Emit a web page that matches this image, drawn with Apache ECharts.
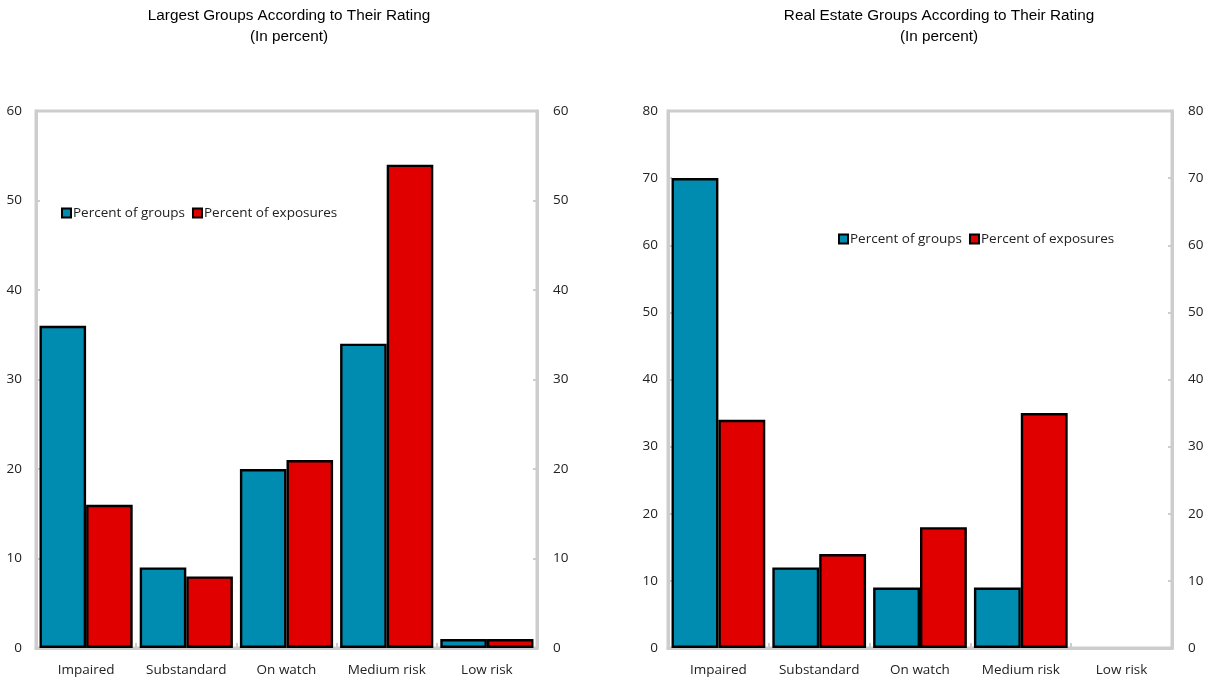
<!DOCTYPE html>
<html><head><meta charset="utf-8">
<script src="https://cdn.jsdelivr.net/npm/echarts@6/dist/echarts.min.js"></script>
<style>html,body{margin:0;padding:0;background:#fff}#c{width:1219px;height:684px}</style>
</head><body><div id="c"></div>
<script>
const categories = ['Impaired', 'Substandard', 'On watch', 'Medium risk', 'Low risk'];
const seriesNames = ['Percent of groups', 'Percent of exposures'];
const largestGroups = [36, 9, 20, 34, 1];
const largestExposures = [16, 8, 21, 54, 1];
const realEstateGroups = [70, 12, 9, 9, 0];
const realEstateExposures = [34, 14, 18, 35, 0];
const leftTicks = { min: 0, max: 60, interval: 10 };
const rightTicks = { min: 0, max: 80, interval: 10 };
const titles = ['Largest Groups According to Their Rating\n(In percent)', 'Real Estate Groups According to Their Rating\n(In percent)'];

const BLUE = '#008bb0', RED = '#e00000', GRAY = '#cdcdcd';
const FONT = 'Open Sans';
const lbl = { color: '#222', fontFamily: FONT, fontSize: 13.5 };

function xAx(g) {
  return { type: 'category', gridIndex: g, data: categories,
    axisLine: { lineStyle: { color: GRAY, width: 3 } },
    axisTick: { show: true, inside: true, length: 5, lineStyle: { color: GRAY, width: 2 } },
    axisLabel: Object.assign({ margin: 15, interval: 0, hideOverlap: false }, lbl) };
}
function yAx(g, pos, t, m) {
  return { type: 'value', gridIndex: g, position: pos, min: t.min, max: t.max, interval: t.interval,
    axisLine: { show: true, lineStyle: { color: GRAY, width: 3 } },
    axisTick: { show: true, inside: true, length: 4, lineStyle: { color: GRAY, width: 2 } },
    splitLine: { show: false },
    axisLabel: Object.assign({ margin: m }, lbl) };
}
function bar(name, data, color, g) {
  return { type: 'bar', name, xAxisIndex: g, yAxisIndex: g * 2,
    data: data.map(v => v === 0 ? { value: v, itemStyle: { borderWidth: 0 } } : v),
    barCategoryGap: '7%', barGap: '0%',
    itemStyle: { color, borderColor: '#000', borderWidth: 2.4 } };
}
const chart = echarts.init(document.getElementById('c'), null, { renderer: 'canvas' });
const tStyle = { fontFamily: 'Liberation Sans', fontSize: 15.3, fontWeight: 'normal', color: '#000', lineHeight: 21 };
const lgText = { fontFamily: FONT, fontSize: 13.5, color: '#222', padding: [0, 0, 0, -3] };
chart.setOption({
  animation: false,
  backgroundColor: '#fff',
  title: [
    { text: titles[0], left: 284, top: 0, textAlign: 'center', textStyle: tStyle },
    { text: titles[1], left: 934, top: 0, textAlign: 'center', textStyle: tStyle }
  ],
  legend: [
    { data: seriesNames, left: 56, top: 201, itemWidth: 9, itemHeight: 9, itemGap: 7, icon: 'rect', textStyle: lgText },
    { data: seriesNames, left: 833, top: 227, itemWidth: 9, itemHeight: 9, itemGap: 7, icon: 'rect', textStyle: lgText }
  ],
  grid: [
    { left: 36, top: 111, width: 501, height: 537, show: true, borderColor: GRAY, borderWidth: 3 },
    { left: 668, top: 111, width: 504, height: 537, show: true, borderColor: GRAY, borderWidth: 3 }
  ],
  xAxis: [xAx(0), xAx(1)],
  yAxis: [yAx(0, 'left', leftTicks, 14), yAx(0, 'right', leftTicks, 16), yAx(1, 'left', rightTicks, 10), yAx(1, 'right', rightTicks, 16)],
  series: [
    bar(seriesNames[0], largestGroups, BLUE, 0),
    bar(seriesNames[1], largestExposures, RED, 0),
    bar(seriesNames[0], realEstateGroups, BLUE, 1),
    bar(seriesNames[1], realEstateExposures, RED, 1)
  ]
});
</script></body></html>
